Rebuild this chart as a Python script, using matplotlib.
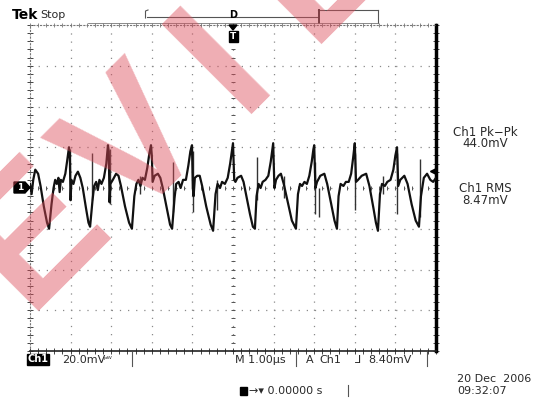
import matplotlib.pyplot as plt
from matplotlib.patches import Polygon, Rectangle

# trace: time in us, voltage in mV
t_us = [-5.00, -4.96, -4.92, -4.87, -4.80, -4.74, -4.66, -4.58, -4.53, -4.47, -4.42, -4.38, -4.34, -4.30, -4.27,
        -4.24, -4.19, -4.13, -4.08, -4.04, -4.02, -4.00, -3.98, -3.93, -3.88, -3.82, -3.76, -3.70, -3.62, -3.56,
        -3.52, -3.46, -3.42, -3.37, -3.33, -3.29, -3.24, -3.18, -3.12, -3.08, -3.06, -3.04, -3.02, -2.96, -2.88,
        -2.82, -2.76, -2.66, -2.56, -2.49, -2.43, -2.38, -2.33, -2.28, -2.23, -2.17, -2.11, -2.06, -2.02, -2.00,
        -1.98, -1.93, -1.85, -1.79, -1.73, -1.63, -1.55, -1.50, -1.44, -1.40, -1.34, -1.29, -1.23, -1.16, -1.10,
        -1.05, -1.01, -0.99, -0.97, -0.94, -0.88, -0.82, -0.76, -0.66, -0.55, -0.49, -0.43, -0.38, -0.32, -0.27,
        -0.20, -0.13, -0.07, -0.02, 0.00, 0.03, 0.06, 0.11, 0.20, 0.26, 0.32, 0.42, 0.49, 0.54, 0.58,
        0.63, 0.68, 0.73, 0.80, 0.87, 0.93, 0.97, 0.99, 1.02, 1.06, 1.12, 1.18, 1.25, 1.35, 1.45,
        1.55, 1.60, 1.65, 1.70, 1.76, 1.82, 1.88, 1.94, 1.98, 2.00, 2.03, 2.07, 2.15, 2.25, 2.32,
        2.42, 2.50, 2.56, 2.60, 2.65, 2.72, 2.78, 2.85, 2.91, 2.96, 3.00, 3.03, 3.08, 3.17, 3.28,
        3.36, 3.46, 3.52, 3.57, 3.62, 3.67, 3.74, 3.80, 3.88, 3.95, 4.00, 4.04, 4.07, 4.12, 4.22,
        4.30, 4.40, 4.50, 4.58, 4.63, 4.70, 4.78, 4.86, 4.93, 5.00]
v_mv = [2, -3, 4, 9, 7, 1, -9, -17, -20, -8, 0, 4, 2, 5, -2,
        4, 3, 7, 14, 20, 17, -6, 4, 2, 6, 8, 5, 0, -10, -17,
        -19, -6, 1, 3, -1, 4, 2, 5, 12, 21, 18, -7, 2, 4, 7,
        6, 1, -9, -17, -20, -4, 2, 4, 1, 5, 4, 10, 17, 21, 16,
        3, 6, 7, 5, 0, -10, -18, -20, -5, 2, 3, 0, 4, 4, 11,
        18, 21, 0, -4, 5, 6, 6, 1, -9, -18, -21, -3, 2, 0, 3,
        2, 5, 12, 19, 22, 4, 3, 5, 6, 3, -3, -13, -19, -20, -4,
        2, 0, 3, 4, 6, 13, 19, 22, 0, 4, 6, 7, 2, -7, -16,
        -20, -3, 2, 1, 3, 2, 6, 13, 19, 21, 0, 3, 6, 7, 2,
        -8, -16, -20, -4, 2, 1, 3, 3, 7, 15, 22, 3, 4, 6, 7,
        1, -10, -17, -21, -3, 2, 1, 3, 4, 9, 16, 20, 1, 4, 6,
        2, -8, -16, -19, -4, 5, 7, 4, 3, 5]

# short glitches (time, low, high)
spike_t = [-4.01, -3.48, -3.03, -2.30, -1.47, -0.99, -0.39, 0.59, 1.25, 2.02, 2.12, 3.00, 3.70, 4.04, 4.60]
spike_lo = [-6, -6, -8, -3, -12, -12, -11, -6, -5, -13, -14, -11, -3, -13, -14]
spike_hi = [19, 17, 19, 6, 13, 18, 4, 15, 6, 13, 0, 17, 6, 17, 14]

W, H = 535, 399
fig = plt.figure(figsize=(W / 100, H / 100), dpi=100)
fig.patch.set_facecolor('white')

# graticule box in pixels
gx0, gx1, gy0, gy1 = 30, 436, 25, 351
ax = fig.add_axes([gx0 / W, 1 - gy1 / H, (gx1 - gx0) / W, (gy1 - gy0) / H])
ax.set_xlim(-5, 5)
ax.set_ylim(-80, 80)
ax.set_xticks([])
ax.set_yticks([])

grid_c = '#8a8a8a'
for k in range(-4, 5):
    ax.axvline(k, color=grid_c, lw=0.9, ls=(0, (1, 5.5)), zorder=1)
for k in range(-3, 4):
    ax.axhline(k * 20, color=grid_c, lw=0.9, ls=(0, (1, 5.5)), zorder=1)

# minor ticks on centre lines and borders
minor_x = [i * 0.2 for i in range(-25, 26)]
minor_y = [i * 4 for i in range(-20, 21)]
ax.plot(minor_x, [0] * len(minor_x), ls='none', marker='|', ms=3, mew=0.7, color='#555555', zorder=2)
ax.plot([0] * len(minor_y), minor_y, ls='none', marker='_', ms=3, mew=0.7, color='#555555', zorder=2)
ax.plot(minor_x, [-80] * len(minor_x), ls='none', marker='|', ms=4, mew=0.7, color='#444444', zorder=2, clip_on=False)
ax.plot(minor_x, [80] * len(minor_x), ls='none', marker='|', ms=3, mew=0.6, color='#777777', zorder=2, clip_on=False)
ax.plot([-5] * len(minor_y), minor_y, ls='none', marker='_', ms=4, mew=0.7, color='#444444', zorder=2, clip_on=False)
ax.plot([5] * len(minor_y), minor_y, ls='none', marker='_', ms=4, mew=0.7, color='#444444', zorder=2, clip_on=False)

for s in ['top', 'left']:
    ax.spines[s].set_linestyle((0, (1, 2)))
    ax.spines[s].set_color('#777777')
    ax.spines[s].set_linewidth(0.8)
ax.spines['bottom'].set_color('#222222')
ax.spines['bottom'].set_linewidth(1.2)
ax.spines['right'].set_color('black')
ax.spines['right'].set_linewidth(2.5)

# waveform
ax.vlines(spike_t, spike_lo, spike_hi, color='#333333', lw=1.0, zorder=3)
ax.plot(t_us, v_mv, color='#111111', lw=1.6, zorder=4)

# trigger level arrow on the right edge
ax.plot([4.93], [8.4], marker='<', ms=4, color='black', clip_on=False, zorder=5)

fa = fig.add_axes([0, 0, 1, 1], facecolor='none')
fa.set_xlim(0, W)
fa.set_ylim(H, 0)
fa.axis('off')

txt = '#2a2a2a'
fa.text(12, 15, 'Tek', fontsize=10, fontweight='bold', color='black', va='center')
fa.text(40, 14.5, 'Stop', fontsize=8, color=txt, va='center')

# record view bar
fa.plot([147, 318], [16.5, 16.5], color='#555555', lw=0.8)
fa.plot([148, 145.5, 145.5], [10, 11, 18], color='#555555', lw=0.8)
fa.plot([318, 378], [10, 10], color='#555555', lw=0.8)
fa.plot([319, 319], [10, 23], color='#333333', lw=1.4)
fa.plot([378, 378], [10, 23], color='#555555', lw=0.8)
fa.plot([88, 378], [23, 23], color='#777777', lw=0.6)
fa.text(233, 15, 'D', fontsize=7, fontweight='bold', ha='center', va='center', color='black')

# trigger position marker
fa.add_patch(Polygon([[229, 25], [237, 25], [233, 30]], closed=True, color='black'))
fa.add_patch(Rectangle((228.5, 31), 9, 11, color='black'))
fa.text(233, 36.5, 'T', fontsize=6.5, fontweight='bold', color='white', ha='center', va='center')

# ground marker
fa.add_patch(Polygon([[14, 182], [25, 182], [30, 187.5], [25, 193], [14, 193]], closed=True, color='black'))
fa.text(20, 187.5, '1', fontsize=6.5, fontweight='bold', color='white', ha='center', va='center')

# measurement readouts
fa.text(485, 132, 'Ch1 Pk\u2212Pk', fontsize=8.5, color=txt, ha='center', va='center')
fa.text(485, 143.5, '44.0mV', fontsize=8.5, color=txt, ha='center', va='center')
fa.text(485, 188, 'Ch1 RMS', fontsize=8.5, color=txt, ha='center', va='center')
fa.text(485, 200, '8.47mV', fontsize=8.5, color=txt, ha='center', va='center')

# bottom status line
fa.add_patch(Rectangle((27, 354), 22, 11, color='black'))
fa.text(38, 359.5, 'Ch1', fontsize=7, fontweight='bold', color='white', ha='center', va='center')
fa.text(62, 360, '20.0mV', fontsize=8, color=txt, va='center')
fa.text(104, 359, '\u1d56\u1d42', fontsize=6, color=txt, va='center')
fa.plot([132, 132], [352, 366], color='#555555', lw=0.8)
fa.text(235, 360, 'M 1.00\u00b5s', fontsize=8, color=txt, va='center')
fa.plot([296, 296], [352, 366], color='#555555', lw=0.8)
fa.text(306, 360, 'A', fontsize=8, color=txt, va='center')
fa.text(319, 360, 'Ch1', fontsize=8, color=txt, va='center')
fa.text(355, 360, '\u2143', fontsize=8, color=txt, va='center')
fa.text(368, 360, '8.40mV', fontsize=8, color=txt, va='center')
fa.plot([427, 427], [352, 366], color='#555555', lw=0.8)

fa.add_patch(Rectangle((240, 387), 7, 8, color='black'))
fa.text(249, 391, '\u2192\u25be 0.00000 s', fontsize=8, color=txt, va='center')
fa.plot([348, 348], [385, 396], color='#555555', lw=0.8)
fa.text(457, 379, '20 Dec  2006', fontsize=8, color=txt, va='center')
fa.text(457, 391, '09:32:07', fontsize=8, color=txt, va='center')

# PREVIEW watermark, one letter at a time along a 45 degree baseline
wm = dict(fontsize=132, family='Liberation Sans', fontweight='bold', color='#dc4a58', alpha=0.45,
          rotation=45, rotation_mode='anchor', va='baseline', zorder=10, clip_on=True)
fa.text(-132, 470, 'P', ha='right', **wm)
fa.text(-10, 348, 'R', ha='right', **wm)
fa.text(27, 311, 'E', ha='left', **wm)
fa.text(172, 184, 'V', ha='center', **wm)
fa.text(258, 96, 'I', ha='center', **wm)
fa.text(310, 44, 'E', ha='left', **wm)
fa.text(414, -60, 'W', ha='left', **wm)

fig.savefig('out.png', dpi=100)
